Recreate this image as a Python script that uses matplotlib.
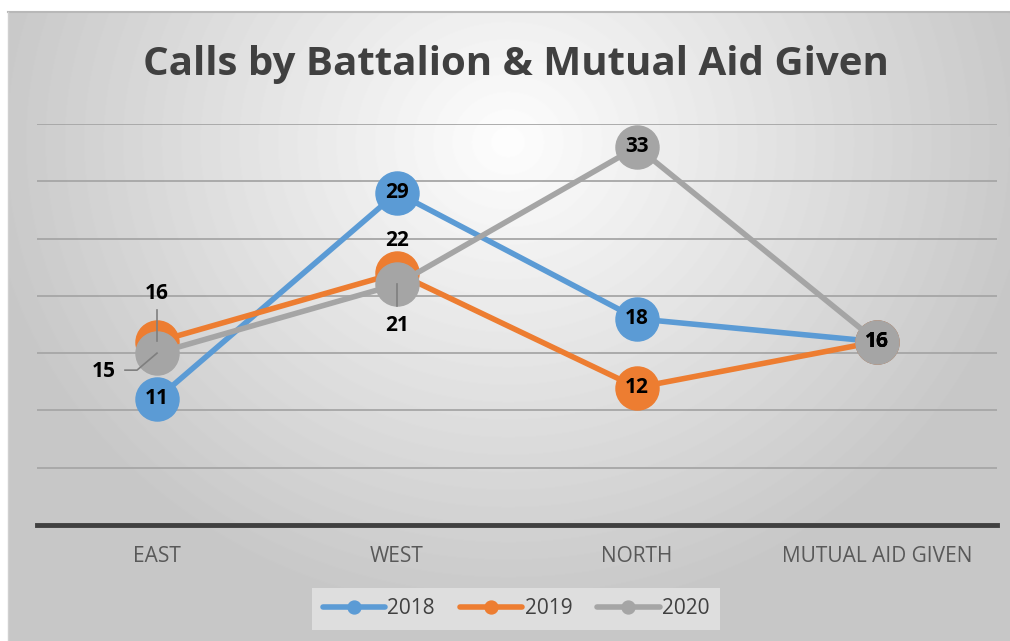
import matplotlib.pyplot as plt
import matplotlib.transforms as mtrans
import numpy as np

categories = ["EAST", "WEST", "NORTH", "MUTUAL AID GIVEN"]
years = ["2018", "2019", "2020"]
calls_2018 = [11, 29, 18, 16]
calls_2019 = [16, 22, 12, 16]
calls_2020 = [15, 21, 33, 16]
series = [calls_2018, calls_2019, calls_2020]
colores = ["#5b9bd5", "#ed7d31", "#a5a5a5"]

plt.rcParams['font.family'] = ['Open Sans', 'DejaVu Sans']

W, H = 1010, 641
fig = plt.figure(figsize=(W / 100, H / 100), dpi=100)
fig.patch.set_facecolor("white")

# fondo con degradado radial
bg = fig.add_axes([8 / W, 0, 1 - 8 / W, (H - 12) / H])
yy, xx = np.mgrid[0:629, 0:1002]
r = np.sqrt(((xx - 500) / 620.0) ** 2 + ((yy - 130) / 560.0) ** 2)
v = np.clip(0.995 - 0.25 * r, 0.78, 1)
bg.imshow(v, cmap="gray", vmin=0, vmax=1, aspect="auto", extent=[0, 1, 0, 1])
bg.set_xlim(0, 1)
bg.set_ylim(0, 1)
bg.axis("off")
bg.plot([0, 1], [1, 1], color="#b8b8b8", lw=1.5, transform=bg.transAxes, clip_on=False)
bg.plot([0, 0], [0, 1], color="#d0d0d0", lw=1, transform=bg.transAxes, clip_on=False)

ax = fig.add_axes([37 / W, (H - 525) / H, 960 / W, (525 - 124) / H])
ax.patch.set_alpha(0)
x = np.arange(len(categories))

for vals, lab, col in zip(series, years, colores):
    ax.plot(x, vals, color=col, lw=4, marker="o", ms=31, mec=col, label=lab, zorder=3,
            solid_capstyle="round")

ax.set_xlim(-0.5, len(categories) - 0.5)
ax.set_ylim(0, 35)
ax.set_yticks(np.arange(5, 36, 5))
ax.yaxis.grid(True, color="#a6a6a6", lw=1.3)
ax.set_axisbelow(True)
ax.tick_params(axis="y", left=False, labelleft=False)
ax.tick_params(axis="x", length=0, pad=15, labelsize=15, labelcolor="#595959")
ax.set_xticks(x)
ax.set_xticklabels(categories)
for s in ["top", "right", "left"]:
    ax.spines[s].set_visible(False)
ax.spines["bottom"].set_color("#404040")
ax.spines["bottom"].set_linewidth(3.5)

# etiquetas de datos (desplazamiento en pixeles)
offsets = {
    (1, 0): (0, 48), (2, 0): (-53, -18),
    (1, 1): (0, 32), (2, 1): (0, -41),
}
for si, vals in enumerate(series):
    for ci, val in enumerate(vals):
        dx, dy = offsets.get((si + 0, ci), (0, 0))
        ax.annotate(str(val), (x[ci], val), xytext=(dx, dy), textcoords="offset pixels",
                    ha="center", va="center", fontsize=15, fontweight="bold",
                    color="black", zorder=6)

# lineas guia
def guia(xd, yd, pts):
    base = ax.transData
    inv = base.inverted()
    cx, cy = base.transform((xd, yd))
    xs, ys = [], []
    for a, b in pts:
        p = inv.transform((cx + a, cy + b))
        xs.append(p[0])
        ys.append(p[1])
    ax.plot(xs, ys, color="#7f7f7f", lw=1.2, zorder=5)

guia(x[0], calls_2019[0], [(0, 1), (0, 32)])
guia(x[0], calls_2020[0], [(0, 0), (-20, -17), (-32, -17)])
guia(x[1], calls_2020[1], [(0, 0), (0, -22)])

leg = ax.legend(loc="center", bbox_to_anchor=(516 / W, (H - 609) / H), bbox_transform=fig.transFigure,
                ncol=3, frameon=True, fontsize=15, handlelength=3, columnspacing=1.2,
                handletextpad=0.1, borderpad=0.5, fancybox=False, markerscale=0.3)
leg.get_frame().set_facecolor("#e4e4e4")
leg.get_frame().set_edgecolor("none")
leg.get_frame().set_alpha(0.8)
for t in leg.get_texts():
    t.set_color("#404040")

fig.text(516 / W, (H - 65) / H, "Calls by Battalion & Mutual Aid Given", ha="center", va="center",
         fontsize=29, fontweight="bold", color="#404040")

fig.savefig("out.png", dpi=100)
